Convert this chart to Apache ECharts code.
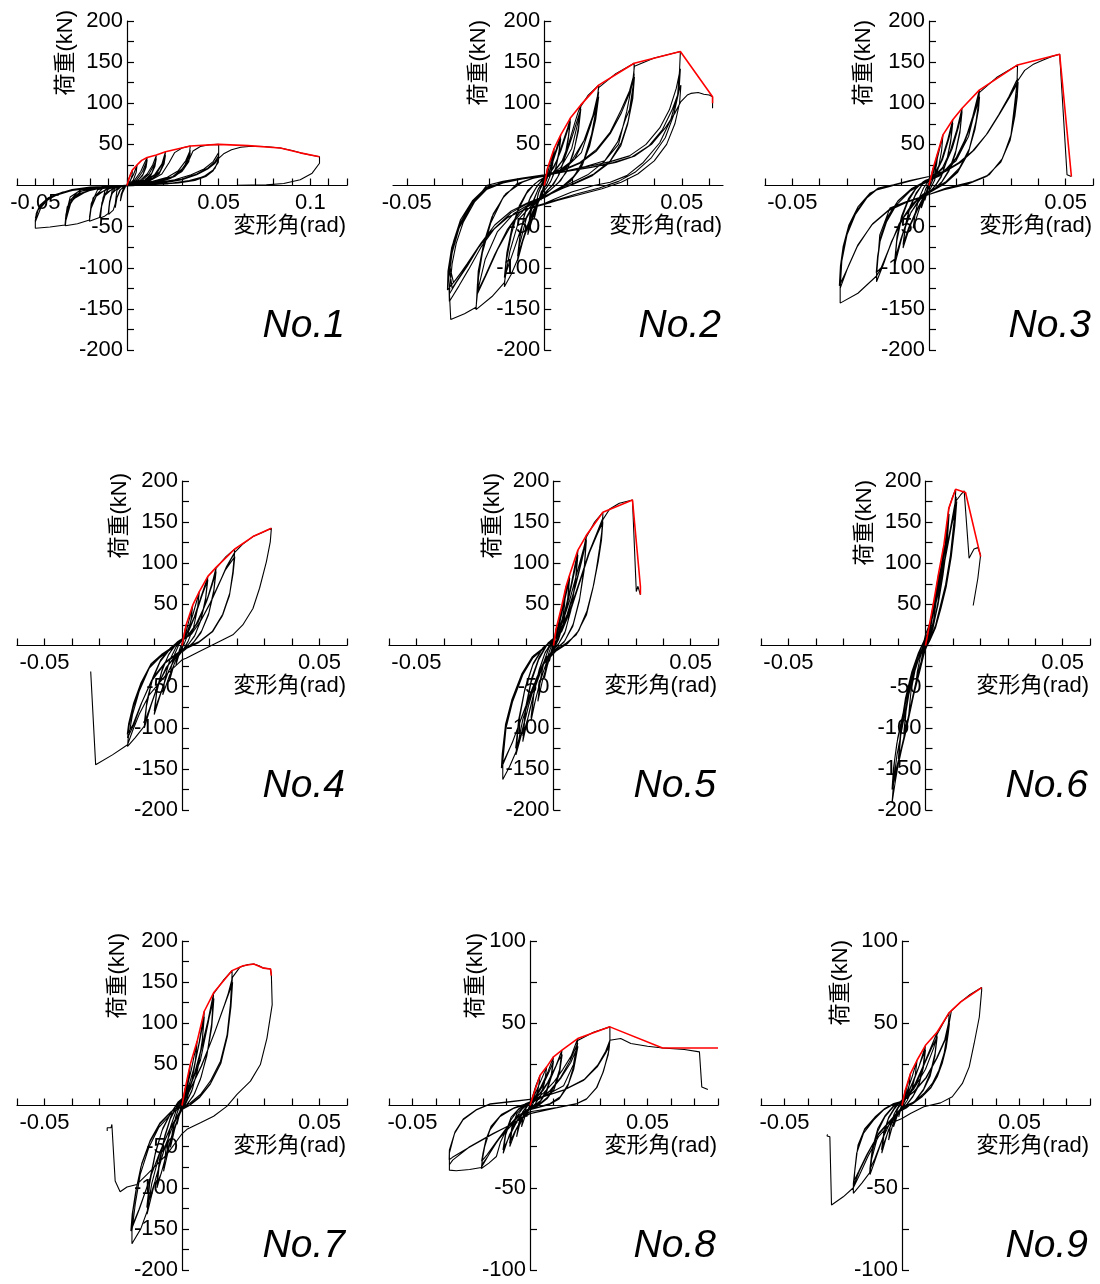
<!DOCTYPE html>
<html><head><meta charset="utf-8">
<script src="https://cdn.jsdelivr.net/npm/echarts@6/dist/echarts.min.js"></script>
<style>html,body{margin:0;padding:0;background:#fff}#c{width:1100px;height:1284px}</style>
</head><body><div id="c"></div>
<script>
// ---------- labels ----------
const panelNames = ['No.1','No.2','No.3','No.4','No.5','No.6','No.7','No.8','No.9'];
const xAxisName = '変形角(rad)';
const yAxisName = '荷重(kN)';
const xTickLabelsWide = [-0.05, 0.05, 0.1];
const xTickLabels = [-0.05, 0.05];
const yTickLabels200 = [-200, -150, -100, -50, 50, 100, 150, 200];
const yTickLabels100 = [-100, -50, 50, 100];

// ---------- data: hysteresis (black) and envelope (red) ----------
const hys1 = [
[0,0],[0.001,8],[0.002,14],[0.003,19],[0.0027,12],[0.0018,5],[0.0005,1],[-0.001,-2],[-0.0025,-9],[-0.0036,-19],[-0.0032,-11],[-0.002,-4],[-0.0005,0],
[0.001,3],[0.0035,13],[0.0055,25],[0.005,16],[0.0035,7],[0.0015,2],[-0.001,-1],[-0.0035,-5],[-0.0055,-15],[-0.0064,-27],[-0.0058,-16],[-0.004,-6],[-0.0015,-1],
[0.001,1],[0.004,6],[0.0075,17],[0.0095,27],[0.011,34],[0.0104,24],[0.0088,14],[0.006,6],[0.003,2],[0,0],[-0.003,-1],[-0.0055,-6],[-0.0064,-22],[-0.0075,-30],[-0.01,-35],[-0.0096,-22],[-0.0082,-10],[-0.005,-3],[-0.002,-1],
[0.001,1],[0.005,6],[0.0085,17],[0.011,31],[0.0104,22],[0.0085,12],[0.005,4],[0.002,1],[-0.002,-1],[-0.0065,-3],[-0.009,-14],[-0.01,-31],[-0.0095,-19],[-0.0078,-8],[-0.004,-2],
[0.002,1],[0.007,6],[0.011,14],[0.014,25],[0.016,36.5],[0.0153,26],[0.0135,15],[0.01,7],[0.005,3],[0,0.5],[-0.004,-1],[-0.008,-5],[-0.0098,-25],[-0.0102,-34],[-0.012,-37],[-0.0145,-39.5],[-0.0138,-25],[-0.012,-12],[-0.008,-4],[-0.003,-1],
[0.002,1],[0.008,6],[0.012,14],[0.015,26],[0.016,33],[0.0152,23],[0.013,12],[0.009,5],[0.004,1.5],[-0.004,-1],[-0.01,-4],[-0.013,-14],[-0.0145,-35],[-0.0137,-21],[-0.0115,-9],[-0.006,-2],
[0.002,1],[0.009,5],[0.015,13],[0.019,26],[0.021,41],[0.0203,29],[0.018,17],[0.014,9],[0.008,3],[0,0.5],[-0.006,-1],[-0.012,-6],[-0.0142,-28],[-0.015,-39],[-0.0205,-43.5],[-0.0196,-28],[-0.0168,-13],[-0.011,-4],[-0.004,-1],
[0.003,1],[0.01,5],[0.016,14],[0.0195,27],[0.021,37],[0.0202,26],[0.0175,14],[0.012,6],[0.005,1.5],[-0.006,-1],[-0.0135,-4],[-0.0185,-15],[-0.0205,-39],[-0.0195,-24],[-0.016,-10],[-0.009,-3],
[0.004,1],[0.012,5],[0.019,14],[0.023,28],[0.026,40],[0.03,45.5],[0.0345,48],[0.034,38],[0.0325,28],[0.029,17],[0.023,8],[0.015,3],[0.006,1],[-0.008,-1],[-0.016,-5],[-0.0195,-22],[-0.0205,-42],[-0.027,-46.5],[-0.0336,-49],[-0.033,-34],[-0.031,-21],[-0.026,-10],[-0.018,-4],[-0.008,-1],
[0.004,1],[0.014,5],[0.022,10],[0.028,18],[0.032,30],[0.0345,43],[0.0338,32],[0.031,20],[0.026,11],[0.017,4],[0.007,1],[-0.006,-1],[-0.016,-3],[-0.025,-7],[-0.03,-16],[-0.0335,-44],[-0.0328,-29],[-0.029,-16],[-0.022,-7],[-0.012,-2],
[0.005,1],[0.016,5],[0.025,11],[0.031,22],[0.0345,40],[0.0337,29],[0.03,17],[0.024,9],[0.014,3],[0.004,1],[-0.008,-1],[-0.018,-3],[-0.027,-8],[-0.031,-18],[-0.0336,-41],[-0.0326,-26],[-0.028,-13],[-0.018,-4],[-0.006,-1],
[0.005,1],[0.015,4],[0.025,10],[0.031,20],[0.034,32],[0.036,42],[0.04,47.5],[0.045,49.5],[0.05,50],[0.05,38],[0.0495,28],[0.047,18],[0.043,11],[0.037,6],[0.028,3],[0.018,1.5],[0.008,0.5],
[-0.005,-1],[-0.015,-2],[-0.025,-5],[-0.031,-14],[-0.0333,-35],[-0.0338,-48],[-0.042,-50.5],[-0.05,-52],[-0.05,-42],[-0.0485,-30],[-0.045,-20],[-0.039,-12],[-0.03,-6],[-0.02,-3],[-0.01,-1],
[0.005,1],[0.015,3],[0.026,7],[0.035,13],[0.042,20],[0.047,29],[0.05,40],[0.05,32],[0.048,21],[0.044,13],[0.037,7],[0.026,3],[0.012,1],
[-0.006,-1],[-0.018,-2],[-0.028,-5],[-0.037,-10],[-0.043,-17],[-0.047,-27],[-0.05,-44],[-0.0495,-34],[-0.0475,-24],[-0.043,-15],[-0.035,-8],[-0.024,-4],[-0.012,-1],
[0.006,1],[0.018,3],[0.03,8],[0.038,14],[0.044,21],[0.048,29],[0.05,36],[0.0498,28],[0.047,19],[0.042,11],[0.034,6],[0.022,2],[0.01,1],
[-0.008,-1],[-0.02,-2],[-0.03,-5],[-0.039,-11],[-0.045,-19],[-0.0485,-29],[-0.05,-40],[-0.049,-31],[-0.046,-21],[-0.04,-12],[-0.03,-6],[-0.018,-3],[-0.006,-1],
[0,0],[0.01,1],[0.02,3],[0.03,7],[0.038,13],[0.044,20],[0.048,27],[0.05,33],[0.053,39],[0.057,43.5],[0.062,46.5],[0.068,47.8],[0.075,47.5],[0.0836,45.5],[0.09,42.5],[0.095,39.5],[0.1,37],[0.105,35],[0.105,27],[0.1045,25],[0.101,15],[0.0945,7],[0.0855,2.4],[0.076,0.8],[0.06,0.3],[0.04,0],[0.02,0],[0,0]
];
const env1 = [[0,0],[0.001,8],[0.002,14],[0.003,19],[0.0055,25],[0.008,30.5],[0.011,34],[0.016,37],[0.021,41],[0.0345,48],[0.05,50],[0.066,48.5],[0.0836,45.5],[0.0945,39.7],[0.105,35]];

const hys2 = [
[0,0],[0.0006,11],[0.0012,21],[0.0008,10],[0.0002,1],[-0.0004,-6],[-0.0012,-18],[-0.0008,-8],[-0.0002,0],
[0.001,12],[0.0022,28],[0.0036,45],[0.0032,30],[0.0024,14],[0.001,2],[-0.0005,-5],[-0.002,-18],[-0.0036,-40],[-0.0031,-25],[-0.0022,-10],[-0.001,0],
[0.0005,4],[0.002,18],[0.0036,42],[0.0031,27],[0.0022,12],[0.0008,1],[-0.001,-7],[-0.0022,-20],[-0.0036,-38],[-0.003,-22],[-0.002,-8],[-0.0007,1],
[0.001,8],[0.0035,35],[0.006,61.5],[0.0054,42],[0.0042,22],[0.0025,6],[0.0008,-3],[-0.001,-10],[-0.003,-28],[-0.0047,-45],[-0.006,-60],[-0.0053,-40],[-0.004,-20],[-0.0023,-5],[-0.0006,4],
[0.0015,12],[0.004,38],[0.006,57],[0.0053,38],[0.004,18],[0.0022,4],[0.0005,-4],[-0.0015,-13],[-0.0035,-31],[-0.006,-56],[-0.0052,-36],[-0.0038,-17],[-0.002,-3],
[0,6],[0.002,14],[0.0045,30],[0.007,55],[0.0085,70],[0.0095,82],[0.0088,60],[0.0075,35],[0.0055,14],[0.0035,2],[0.0012,-6],[-0.001,-14],[-0.003,-25],[-0.0055,-45],[-0.0078,-68],[-0.0097,-92],[-0.009,-66],[-0.0075,-40],[-0.0055,-18],[-0.003,-3],[-0.001,6],
[0.001,10],[0.0035,22],[0.006,42],[0.008,62],[0.0095,78],[0.0087,55],[0.0072,30],[0.005,11],[0.0028,0],[0.0005,-8],[-0.0015,-15],[-0.004,-30],[-0.0065,-52],[-0.0097,-86],[-0.0088,-60],[-0.0072,-35],[-0.005,-14],[-0.0025,0],
[0,8],[0.003,15],[0.0065,30],[0.009,52],[0.011,75],[0.0122,88],[0.0133,98],[0.0125,72],[0.011,45],[0.0085,20],[0.006,6],[0.003,-3],[0,-12],[-0.003,-20],[-0.0065,-40],[-0.009,-72],[-0.0097,-90],[-0.012,-108],[-0.0145,-123],[-0.0138,-92],[-0.012,-60],[-0.0095,-30],[-0.0065,-10],[-0.0035,2],[0,10],
[0.0035,16],[0.0075,34],[0.01,58],[0.0133,93],[0.0124,66],[0.0105,38],[0.008,16],[0.005,3],[0.002,-6],[-0.001,-13],[-0.0045,-26],[-0.008,-48],[-0.011,-78],[-0.0145,-112],[-0.0136,-82],[-0.0118,-52],[-0.009,-24],[-0.006,-6],[-0.002,6],
[0.002,12],[0.006,22],[0.01,45],[0.0125,80],[0.0133,96],[0.016,110],[0.0198,122],[0.019,95],[0.0172,62],[0.0145,32],[0.011,12],[0.007,0],[0.003,-8],[0,-14],[-0.004,-22],[-0.009,-40],[-0.0125,-80],[-0.0145,-118],[-0.019,-135],[-0.0248,-151],[-0.0243,-120],[-0.0225,-82],[-0.0195,-46],[-0.015,-15],[-0.01,2],[-0.005,8],[0,12],
[0.005,17],[0.01,30],[0.0145,55],[0.018,88],[0.0198,114],[0.0188,86],[0.0168,54],[0.014,26],[0.01,8],[0.006,-3],[0.002,-11],[-0.002,-17],[-0.007,-28],[-0.012,-48],[-0.017,-78],[-0.021,-108],[-0.0245,-133],[-0.024,-104],[-0.022,-70],[-0.019,-38],[-0.0145,-12],[-0.009,3],[-0.004,9],
[0.001,12],[0.006,18],[0.011,32],[0.015,58],[0.0185,90],[0.0198,108],[0.0187,80],[0.0165,48],[0.0135,22],[0.0095,5],[0.005,-5],[0.001,-13],[-0.004,-20],[-0.009,-33],[-0.0135,-54],[-0.018,-84],[-0.0215,-110],[-0.0242,-129],[-0.0237,-100],[-0.0215,-66],[-0.0185,-34],[-0.014,-10],[-0.008,4],[-0.003,10],
[0.002,14],[0.008,22],[0.0135,40],[0.017,75],[0.0193,108],[0.0198,119],[0.026,136],[0.0327,148.6],[0.0325,125],[0.031,92],[0.0297,82],[0.0267,53],[0.0218,29],[0.0158,13],[0.0097,3],[0.005,-5],[0,-15],[-0.005,-22],[-0.011,-34],[-0.017,-56],[-0.0215,-90],[-0.0242,-128],[-0.0248,-148],[-0.029,-156],[-0.034,-163],[-0.0345,-130],[-0.0335,-95],[-0.032,-70],[-0.0295,-45],[-0.025,-18],[-0.021,0],[-0.015,5],[-0.008,9],[0,13],
[0.006,18],[0.013,28],[0.019,44],[0.024,65],[0.028,92],[0.031,115],[0.0327,136],[0.0322,110],[0.0305,78],[0.028,52],[0.024,30],[0.018,14],[0.011,3],[0.005,-6],[0,-14],[-0.006,-22],[-0.012,-33],[-0.018,-52],[-0.023,-75],[-0.0275,-102],[-0.031,-122],[-0.0345,-141],[-0.0347,-112],[-0.0335,-82],[-0.031,-52],[-0.027,-26],[-0.022,-6],[-0.016,3],[-0.008,8],[0,12],
[0.006,17],[0.013,27],[0.019,42],[0.024,63],[0.028,88],[0.031,112],[0.0328,132],[0.0322,106],[0.0303,74],[0.0278,48],[0.0235,27],[0.0175,12],[0.011,2],[0.004,-7],[0,-13],[-0.006,-21],[-0.012,-31],[-0.018,-48],[-0.023,-70],[-0.028,-95],[-0.032,-114],[-0.0352,-127],[-0.035,-104],[-0.0337,-76],[-0.031,-48],[-0.0265,-22],[-0.021,-4],[-0.015,4],[-0.008,8],[0,12],
[0.007,17],[0.015,23],[0.022,30],[0.027,50],[0.03,90],[0.0322,128],[0.0328,145],[0.04,155],[0.0495,163],[0.0492,140],[0.0485,110],[0.046,80],[0.042,52],[0.036,28],[0.03,12],[0.024,4],[0.018,0],[0.01,-8],[0.004,-16],[0,-22],[-0.006,-28],[-0.013,-38],[-0.019,-55],[-0.024,-76],[-0.028,-98],[-0.032,-118],[-0.0345,-132],[-0.0348,-108],[-0.0335,-80],[-0.031,-52],[-0.0265,-24],[-0.021,-5],[-0.015,3],[-0.008,8],[0,12],
[0.008,18],[0.016,23],[0.024,29],[0.031,36],[0.037,50],[0.042,70],[0.0455,92],[0.048,118],[0.0495,142],[0.049,115],[0.047,85],[0.044,58],[0.039,34],[0.033,16],[0.027,5],[0.02,-3],[0.012,-10],[0.005,-17],[0,-22],[-0.007,-29],[-0.014,-40],[-0.02,-58],[-0.025,-80],[-0.029,-102],[-0.0335,-125],[-0.0345,-100],[-0.033,-72],[-0.0305,-46],[-0.026,-20],[-0.021,-3],[-0.014,4],[-0.007,9],[0,12],
[0.008,17],[0.017,22],[0.025,28],[0.032,35],[0.038,48],[0.043,68],[0.0465,92],[0.0485,110],[0.0497,122],[0.0492,100],[0.0475,75],[0.0445,50],[0.04,30],[0.034,14],[0.028,4],[0.021,-4],[0.013,-11],[0.005,-18],[0,-23],[-0.007,-29],[-0.014,-40],[-0.02,-58],[-0.025,-80],[-0.029,-100],[-0.033,-118],[-0.0345,-96],[-0.033,-68],[-0.0305,-42],[-0.026,-18],[-0.021,-2],[-0.014,4],[-0.007,9],[0,12],
[0.008,17],[0.017,22],[0.026,28],[0.033,36],[0.039,50],[0.044,70],[0.0475,88],[0.0497,102],[0.052,110],[0.0533,112],[0.056,113],[0.058,111],[0.06,110],[0.0612,108],[0.0612,94]
];
const env2 = [[0,0],[0.0012,21],[0.0036,45],[0.006,61.5],[0.0095,82],[0.0133,98],[0.0198,122],[0.0327,148.6],[0.0495,163],[0.0612,108],[0.0612,100]];

const hys3 = [
[0,0],[0.0008,11],[0.0015,21],[0.001,10],[0.0003,1],[-0.0005,-6],[-0.0015,-18],[-0.001,-8],[-0.0003,0],
[0.001,11],[0.002,24],[0.0033,41],[0.0028,26],[0.0018,10],[0.0006,1],[-0.0008,-8],[-0.0028,-27.5],[-0.0022,-15],[-0.0012,-4],[0,3],
[0.0015,14],[0.0032,35],[0.0051,61.5],[0.0046,42],[0.0035,22],[0.002,6],[0.0005,-4],[-0.0015,-14],[-0.0035,-28],[-0.0058,-52],[-0.005,-33],[-0.0037,-16],[-0.002,-3],[0,6],
[0.002,14],[0.0045,30],[0.0068,55],[0.0087,80],[0.008,56],[0.0066,32],[0.0046,12],[0.0025,1],[0.0005,-7],[-0.0015,-14],[-0.004,-28],[-0.007,-50],[-0.0095,-76],[-0.0087,-52],[-0.0072,-30],[-0.005,-12],[-0.0025,1],[0,8],
[0.0025,15],[0.005,32],[0.0072,56],[0.0087,76],[0.0079,52],[0.0064,29],[0.0044,10],[0.0022,-1],[0,-8],[-0.0025,-17],[-0.005,-33],[-0.0075,-52],[-0.0095,-72],[-0.0086,-48],[-0.007,-26],[-0.0047,-9],[-0.002,3],
[0.002,12],[0.005,22],[0.0078,42],[0.0102,68],[0.0121,94],[0.0114,68],[0.0098,42],[0.0075,20],[0.0048,5],[0.002,-4],[0,-9],[-0.003,-16],[-0.0065,-32],[-0.0095,-58],[-0.0125,-96],[-0.0118,-68],[-0.0102,-42],[-0.0078,-20],[-0.0048,-4],[-0.002,5],
[0.002,11],[0.0055,22],[0.0085,45],[0.0107,70],[0.0121,90],[0.0113,64],[0.0096,38],[0.0072,17],[0.0045,3],[0.0015,-6],[-0.001,-11],[-0.004,-19],[-0.0075,-38],[-0.0102,-64],[-0.0125,-90],[-0.0117,-62],[-0.01,-37],[-0.0075,-16],[-0.0045,-2],[-0.0015,6],
[0.002,10],[0.006,19],[0.01,34],[0.0135,58],[0.016,84],[0.0184,116],[0.0182,102],[0.0172,78],[0.0148,45],[0.0111,21],[0.0063,5],[0.003,-2],[0,-7],[-0.0046,-19],[-0.0095,-40],[-0.0137,-68],[-0.0167,-96],[-0.0192,-117],[-0.019,-96],[-0.0179,-68],[-0.0155,-44],[-0.0119,-23.5],[-0.007,-7],[-0.003,1],[0,5],
[0.004,13],[0.008,24],[0.0115,42],[0.0148,70],[0.0172,96],[0.0184,112],[0.0181,96],[0.017,72],[0.0145,41],[0.0108,18],[0.006,3],[0.002,-5],[-0.002,-10],[-0.0065,-24],[-0.011,-47],[-0.0145,-76],[-0.017,-98],[-0.0192,-110],[-0.0189,-90],[-0.0177,-63],[-0.0152,-40],[-0.0116,-20],[-0.0068,-5],[-0.002,3],
[0.004,12],[0.008,23],[0.012,44],[0.0152,72],[0.0175,96],[0.0185,108],[0.0181,92],[0.0168,68],[0.0142,38],[0.0105,16],[0.0058,2],[0.0015,-6],[-0.002,-11],[-0.0065,-25],[-0.011,-48],[-0.0148,-78],[-0.0175,-100],[-0.0193,-106],[-0.0188,-86],[-0.0175,-60],[-0.015,-37],[-0.0112,-18],[-0.0065,-4],[-0.002,4],
[0.004,14],[0.0099,30],[0.0145,60],[0.0175,100],[0.0184,113],[0.025,132],[0.0324,146.6],[0.0322,125],[0.0312,95],[0.03,61.5],[0.0269,33],[0.022,13],[0.016,4.9],[0.0063,-3.2],[0,-11],[-0.0082,-19.4],[-0.0143,-27.5],[-0.018,-60],[-0.0192,-110],[-0.026,-131],[-0.0325,-143],[-0.0325,-125],[-0.0319,-92],[-0.03,-60],[-0.027,-35.6],[-0.0228,-15.4],[-0.0192,-5.3],[-0.0143,-1.2],[-0.0082,4.9],[0,11],
[0.006,18],[0.011,28],[0.016,42],[0.021,62],[0.0255,86],[0.0292,108],[0.0324,130],[0.0322,112],[0.0313,88],[0.0298,58],[0.0265,30],[0.0215,12],[0.015,3],[0.006,-4],[0,-11],[-0.008,-20],[-0.0145,-29],[-0.0205,-46],[-0.026,-72],[-0.0295,-98],[-0.0325,-125],[-0.0322,-100],[-0.0315,-80],[-0.0297,-54],[-0.0265,-31],[-0.0222,-12],[-0.0185,-3],[-0.013,1],[-0.007,6],[0,11],
[0.006,17],[0.0115,28],[0.0165,43],[0.0215,64],[0.026,88],[0.0296,108],[0.0326,126],[0.0323,108],[0.0314,84],[0.0297,55],[0.0262,28],[0.021,11],[0.0145,2],[0.0055,-5],[0,-11],[-0.0085,-21],[-0.015,-31],[-0.021,-48],[-0.0262,-74],[-0.0297,-100],[-0.0328,-122],[-0.0324,-98],[-0.0314,-74],[-0.0293,-48],[-0.026,-26],[-0.0215,-9],[-0.017,-2],[-0.011,2],[-0.005,7],[0,11],
[0.006,18],[0.0115,28],[0.0165,43],[0.0215,64],[0.026,88],[0.0296,108],[0.0326,128],[0.035,140],[0.038,147],[0.042,153],[0.045,157],[0.0478,159.5],[0.0505,13],[0.0521,11]
];
const env3 = [[0,0],[0.0015,21],[0.0033,41],[0.0051,61.5],[0.0087,80],[0.0121,94],[0.0184,116],[0.0324,146.6],[0.0478,159.5],[0.0521,11]];

const hys4 = [
[0,0],[0.0008,14],[0.0015,25],[0.001,13],[0.0003,2],[-0.0008,-8],[-0.0022,-23.5],[-0.0016,-12],[-0.0006,-2],
[0.001,10],[0.0025,30],[0.0039,49],[0.0033,32],[0.0022,14],[0.0008,2],[-0.001,-8],[-0.0028,-22],[-0.0046,-43.7],[-0.0039,-26],[-0.0026,-10],[-0.001,2],
[0.0015,12],[0.004,38],[0.0063,65.6],[0.0056,44],[0.0042,22],[0.0022,5],[0.0005,-5],[-0.002,-16],[-0.0045,-36],[-0.007,-60],[-0.0061,-38],[-0.0045,-18],[-0.0022,-2],[0,6],
[0.002,16],[0.0045,35],[0.007,60],[0.0094,84],[0.0086,58],[0.007,33],[0.0048,13],[0.0025,2],[0,-6],[-0.0025,-16],[-0.005,-32],[-0.0075,-56],[-0.0101,-84],[-0.0092,-57],[-0.0074,-32],[-0.005,-12],[-0.0025,1],[0,8],
[0.0025,18],[0.005,38],[0.0074,62],[0.0094,80],[0.0085,54],[0.0068,30],[0.0045,11],[0.002,0],[-0.0005,-7],[-0.003,-18],[-0.0055,-36],[-0.008,-60],[-0.0101,-80],[-0.0091,-53],[-0.0072,-29],[-0.0047,-10],[-0.002,2],
[0.002,12],[0.005,25],[0.0085,50],[0.0107,72],[0.0124,95],[0.0116,68],[0.0098,40],[0.0072,18],[0.0042,4],[0.0012,-5],[-0.002,-12],[-0.005,-24],[-0.0085,-46],[-0.0112,-72],[-0.0137,-100],[-0.0128,-70],[-0.0108,-42],[-0.008,-20],[-0.0045,-5],[-0.0015,5],
[0.0025,13],[0.0058,28],[0.009,54],[0.011,74],[0.0124,90],[0.0115,64],[0.0096,37],[0.0068,15],[0.0038,2],[0.0008,-6],[-0.0025,-13],[-0.0058,-27],[-0.009,-50],[-0.0115,-74],[-0.0137,-94],[-0.0127,-66],[-0.0106,-39],[-0.0077,-17],[-0.0042,-3],[-0.001,6],
[0.003,13],[0.0063,32],[0.0095,60],[0.012,88],[0.0124,94],[0.016,108],[0.0191,117],[0.0191,112],[0.0185,90],[0.0173,61.5],[0.0148,37],[0.0112,17],[0.0063,4.9],[0,-5],[-0.0058,-19.4],[-0.0107,-39.7],[-0.013,-75],[-0.0137,-98],[-0.017,-112],[-0.0198,-122.7],[-0.0196,-114],[-0.018,-84],[-0.0156,-56],[-0.0119,-27.5],[-0.0083,-15.4],[-0.0034,-3.2],[0,7],
[0.0035,14],[0.0068,30],[0.01,50],[0.0128,70],[0.0155,90],[0.0178,105],[0.0191,112],[0.0186,92],[0.0174,64],[0.0148,38],[0.011,17],[0.006,4],[0,-5],[-0.006,-20],[-0.011,-42],[-0.0147,-70],[-0.0175,-96],[-0.0198,-112.5],[-0.0194,-100],[-0.0178,-76],[-0.0152,-50],[-0.0115,-25],[-0.0078,-13],[-0.003,-2],[0,6],
[0.0035,14],[0.007,31],[0.0103,52],[0.013,72],[0.0158,92],[0.0192,108],[0.0186,88],[0.0172,60],[0.0145,35],[0.0108,16],[0.0058,3],[0,-6],[-0.006,-21],[-0.0112,-44],[-0.015,-72],[-0.0178,-96],[-0.0199,-108],[-0.0194,-95],[-0.0176,-70],[-0.015,-46],[-0.0112,-22],[-0.0075,-11],[-0.003,-1],[0,6],
[0.0035,14],[0.007,31],[0.0105,53],[0.0135,75],[0.0162,96],[0.0191,113],[0.022,123],[0.0258,132.4],[0.029,137],[0.0325,142.5],[0.0325,140.5],[0.0321,126],[0.0307,102],[0.0282,69.6],[0.0258,45],[0.0221,25],[0.0185,13],[0.0136,4.9],[0.0063,-7.3],[0.0015,-15.4],[0,-17.4],[-0.0058,-35.6],[-0.0119,-60],[-0.0156,-84],[-0.018,-104],[-0.0198,-120.6],[-0.0253,-133],[-0.0314,-145],[-0.0332,-31.6]
];
const env4 = [[0,0],[0.0015,25],[0.0039,49],[0.0063,65.6],[0.0094,84],[0.0124,95],[0.0191,117],[0.0258,132.4],[0.0325,142.5]];

const hys5 = [
[0,0],[0.0005,11],[0.001,21],[0.0006,10],[0,1],[-0.0007,-8],[-0.0015,-19.4],[-0.001,-9],[-0.0003,0],
[0.001,14],[0.002,30],[0.0028,45],[0.0023,28],[0.0014,12],[0.0004,1],[-0.001,-10],[-0.0022,-24],[-0.0033,-39.7],[-0.0027,-24],[-0.0017,-9],[-0.0005,2],
[0.001,12],[0.0028,40],[0.0046,72],[0.004,48],[0.0028,24],[0.0014,7],[0,-3],[-0.002,-20],[-0.004,-42],[-0.0057,-68],[-0.0049,-44],[-0.0035,-20],[-0.0018,-4],[0,6],
[0.0015,18],[0.0035,50],[0.0059,86],[0.0052,58],[0.0038,30],[0.002,9],[0.0002,-4],[-0.002,-15],[-0.0045,-40],[-0.0065,-65],[-0.0082,-92],[-0.0072,-60],[-0.0054,-32],[-0.0032,-10],[-0.001,3],
[0.0015,16],[0.0035,46],[0.0059,82],[0.0051,54],[0.0036,27],[0.0018,7],[0,-5],[-0.0025,-20],[-0.005,-45],[-0.0082,-88],[-0.0071,-56],[-0.0052,-29],[-0.003,-8],[-0.0005,4],
[0.0015,16],[0.004,40],[0.0065,75],[0.0089,116],[0.0081,82],[0.0065,46],[0.0044,18],[0.002,3],[0,-5],[-0.003,-18],[-0.0062,-45],[-0.0088,-80],[-0.0112,-117],[-0.0102,-80],[-0.0082,-45],[-0.0055,-18],[-0.0025,0],[0,8],
[0.002,16],[0.0045,42],[0.0068,76],[0.0089,110],[0.008,76],[0.0063,42],[0.0041,15],[0.0015,0],[-0.0005,-6],[-0.0035,-21],[-0.0066,-50],[-0.009,-84],[-0.0112,-110],[-0.0101,-74],[-0.008,-40],[-0.0052,-14],[-0.002,3],
[0.002,14],[0.005,38],[0.0078,70],[0.0102,104],[0.012,134],[0.0113,98],[0.0096,58],[0.0072,26],[0.0042,6],[0.001,-4],[-0.0025,-14],[-0.006,-38],[-0.009,-72],[-0.0115,-106],[-0.0137,-133],[-0.0128,-96],[-0.0106,-56],[-0.0076,-24],[-0.004,-4],[-0.001,6],
[0.002,13],[0.0052,38],[0.008,72],[0.0104,104],[0.012,128],[0.0112,92],[0.0094,54],[0.007,23],[0.0038,4],[0.0005,-5],[-0.003,-16],[-0.0065,-42],[-0.0095,-78],[-0.0118,-108],[-0.0138,-125],[-0.0127,-90],[-0.0104,-52],[-0.0073,-21],[-0.0037,-2],[0,7],
[0.001,13],[0.0035,30],[0.0059,55],[0.0083,85],[0.011,118],[0.012,132],[0.015,150],[0.018,162],[0.018,158.7],[0.0176,138],[0.0168,118],[0.0156,92],[0.0144,70],[0.012,37],[0.0083,13],[0.0046,2.8],[0,-7.3],[-0.0039,-23.5],[-0.0076,-51.8],[-0.0112,-90],[-0.0135,-128],[-0.016,-147],[-0.0185,-163],[-0.0185,-141],[-0.0173,-100],[-0.0149,-68],[-0.0112,-35.6],[-0.0076,-15.4],[-0.0027,-1.2],[0,8],
[0.003,18],[0.0062,45],[0.0095,78],[0.0128,112],[0.0156,135],[0.018,155],[0.0176,132],[0.0165,108],[0.0148,76],[0.0125,44],[0.0092,18],[0.0052,3],[0.001,-6],[-0.0035,-22],[-0.0074,-50],[-0.011,-82],[-0.0148,-116],[-0.019,-149],[-0.0187,-132],[-0.0175,-96],[-0.0152,-66],[-0.0115,-34],[-0.0078,-14],[-0.003,-1],[0,7],
[0.003,17],[0.0063,44],[0.0097,78],[0.013,112],[0.0158,134],[0.018,150],[0.0175,128],[0.0163,102],[0.0145,72],[0.0122,42],[0.009,17],[0.005,2],[0.0008,-7],[-0.0037,-23],[-0.0076,-51],[-0.0113,-84],[-0.015,-118],[-0.0185,-143],[-0.0183,-126],[-0.017,-92],[-0.0147,-63],[-0.011,-32],[-0.0072,-12],[-0.0025,0],[0,7],
[0.003,17],[0.0064,44],[0.0099,80],[0.0132,114],[0.016,138],[0.018,153],[0.0205,166],[0.024,173],[0.0288,177],[0.0302,65.6],[0.0308,72],[0.0312,73.7],[0.0317,61.5]
];
const env5 = [[0,0],[0.001,21],[0.0028,45],[0.0046,72],[0.0059,86],[0.0089,116],[0.012,134],[0.018,162],[0.0288,177],[0.0317,71.7],[0.0317,62]];

const hys6 = [
[0,0],[0.0006,11],[0.0012,21],[0.0008,11],[0.0002,2],[-0.0008,-9],[-0.0018,-23.5],[-0.0012,-12],[-0.0004,-2],
[0.001,14],[0.002,32],[0.003,53.4],[0.0025,34],[0.0016,16],[0.0005,3],[-0.001,-12],[-0.0024,-30],[-0.0037,-52],[-0.003,-32],[-0.0019,-14],[-0.0006,0],
[0.001,14],[0.003,48],[0.0049,90],[0.0042,60],[0.003,32],[0.0015,10],[0,-4],[-0.002,-24],[-0.004,-52],[-0.0061,-84],[-0.0053,-56],[-0.0038,-30],[-0.002,-10],[0,6],
[0.0015,20],[0.0035,52],[0.0052,86],[0.0067,122],[0.006,88],[0.0046,54],[0.003,26],[0.0012,6],[-0.0005,-8],[-0.0025,-30],[-0.0045,-60],[-0.0063,-88],[-0.0079,-112.5],[-0.0071,-80],[-0.0055,-48],[-0.0035,-20],[-0.0015,-2],[0,8],
[0.0018,22],[0.0038,55],[0.0055,88],[0.0068,116],[0.006,84],[0.0045,50],[0.0028,22],[0.001,3],[-0.0008,-11],[-0.0028,-34],[-0.0048,-64],[-0.0065,-90],[-0.0079,-106],[-0.007,-74],[-0.0053,-43],[-0.0032,-16],[-0.0012,1],
[0.0015,20],[0.0035,50],[0.0055,88],[0.0072,124],[0.0085,167],[0.0079,130],[0.0065,92],[0.0048,56],[0.003,26],[0.0012,6],[-0.0006,-10],[-0.0025,-32],[-0.0048,-66],[-0.0072,-104],[-0.0098,-141],[-0.0089,-104],[-0.0072,-68],[-0.005,-36],[-0.0028,-12],[-0.0008,4],
[0.0015,18],[0.0036,50],[0.0057,88],[0.0073,122],[0.0086,160],[0.0079,124],[0.0064,86],[0.0046,50],[0.0027,22],[0.0008,3],[-0.001,-13],[-0.0028,-36],[-0.005,-70],[-0.0074,-108],[-0.0099,-138],[-0.009,-100],[-0.0073,-64],[-0.005,-32],[-0.0026,-9],[-0.0005,6],
[0,13],[0.0018,29],[0.0043,65],[0.0067,110],[0.0083,160],[0.0085,166],[0.0098,180],[0.011,190],[0.011,186.6],[0.0104,150.6],[0.0091,110],[0.0073,73.7],[0.0055,49.4],[0.0037,25],[0.0018,8.9],[0,-3],[-0.0018,-27.5],[-0.0043,-60],[-0.0075,-110],[-0.0096,-138],[-0.011,-165],[-0.0122,-191.5],[-0.0116,-165],[-0.0104,-133],[-0.0085,-100],[-0.0067,-68],[-0.0043,-35.6],[-0.0024,-15.4],[0,-1],
[0.0018,26],[0.0043,60],[0.0067,100],[0.0091,142.5],[0.0112,181],[0.0106,150],[0.0093,112],[0.0075,75],[0.0056,48],[0.0037,23],[0.0017,7],[0,-4],[-0.002,-28],[-0.0045,-62],[-0.007,-100],[-0.0094,-137],[-0.0122,-175],[-0.0117,-150],[-0.0105,-120],[-0.0086,-90],[-0.0066,-60],[-0.0042,-32],[-0.0022,-13],[0,-1],
[0.0019,26],[0.0045,61],[0.0069,101],[0.0093,142],[0.0114,175],[0.0107,145],[0.0094,108],[0.0076,72],[0.0057,46],[0.0037,22],[0.0016,6],[0,-4],[-0.002,-27],[-0.0045,-60],[-0.0069,-97],[-0.0093,-132],[-0.0118,-165],[-0.0113,-140],[-0.0101,-112],[-0.0083,-84],[-0.0063,-55],[-0.004,-28],[-0.002,-11],[0,0],
[0.0019,26],[0.0045,61],[0.007,102],[0.0094,144],[0.0112,176],[0.0128,183],[0.0141,188],[0.0146,186],[0.0159,106],[0.017,113],[0.0177,117.4],[0.0191,119],[0.0201,110],[0.0191,81.8],[0.0174,48.6]
];
const env6 = [[0,0],[0.0012,21],[0.003,53.4],[0.0049,90],[0.0067,122],[0.0085,167],[0.011,190],[0.0146,186],[0.0201,108]];

const hys7 = [
[0,0],[0.0006,11],[0.0012,21.5],[0.0008,11],[0.0002,2],[-0.0008,-9],[-0.0018,-23],[-0.0012,-12],[-0.0004,-2],
[0.001,14],[0.002,30],[0.003,50],[0.0025,32],[0.0016,15],[0.0005,3],[-0.001,-11],[-0.0026,-28],[-0.0042,-51],[-0.0035,-32],[-0.0023,-14],[-0.0008,0],
[0.0012,14],[0.0033,42],[0.0055,78],[0.0048,52],[0.0035,28],[0.0018,8],[0,-4],[-0.0022,-22],[-0.0045,-48],[-0.0067,-80],[-0.0058,-52],[-0.0042,-26],[-0.0022,-7],[0,6],
[0.002,18],[0.0042,44],[0.0062,76],[0.0081,114.6],[0.0074,80],[0.0058,46],[0.0038,20],[0.0016,4],[-0.0005,-8],[-0.0028,-28],[-0.0052,-54],[-0.0072,-78],[-0.0091,-100],[-0.0082,-70],[-0.0064,-40],[-0.0042,-16],[-0.0018,-1],[0,8],
[0.002,18],[0.0044,46],[0.0064,78],[0.0081,108],[0.0073,76],[0.0056,42],[0.0035,17],[0.0013,2],[-0.0008,-10],[-0.0032,-31],[-0.0056,-58],[-0.0075,-82],[-0.0092,-96],[-0.0082,-66],[-0.0062,-36],[-0.004,-13],[-0.0015,1],
[0.0018,14],[0.0045,38],[0.0072,72],[0.0095,104],[0.0115,137],[0.0108,100],[0.0092,64],[0.007,35],[0.0045,14],[0.002,2],[0,-5],[-0.003,-22],[-0.0062,-50],[-0.0095,-88],[-0.0127,-132],[-0.0118,-96],[-0.0098,-60],[-0.0072,-30],[-0.0042,-10],[-0.0015,4],
[0.002,14],[0.0048,40],[0.0075,74],[0.0098,106],[0.0116,130],[0.0108,95],[0.009,60],[0.0067,32],[0.0042,12],[0.0017,1],[-0.0005,-7],[-0.0034,-25],[-0.0066,-55],[-0.0098,-92],[-0.0128,-124],[-0.0117,-90],[-0.0096,-56],[-0.0069,-27],[-0.0039,-8],[-0.001,5],
[0.0018,13.4],[0.0067,55],[0.0095,100],[0.0113,133],[0.0115,136],[0.015,152],[0.0182,164],[0.0182,159],[0.0176,122.6],[0.0164,86],[0.014,53.8],[0.0103,29.6],[0.0067,13.4],[0.003,3.2],[0,-2.8],[-0.0042,-27],[-0.0079,-55.5],[-0.011,-95],[-0.0126,-128],[-0.015,-150],[-0.0182,-168],[-0.0182,-152.6],[-0.017,-120],[-0.0152,-84],[-0.0121,-51.4],[-0.0085,-27],[-0.0042,-11],[0,-1],
[0.0022,14],[0.007,48],[0.0118,88],[0.0148,116],[0.0168,136],[0.0183,155],[0.0178,122],[0.0166,86],[0.0142,52],[0.0104,27],[0.0066,11],[0.0028,1],[0,-4],[-0.0044,-28],[-0.0081,-57],[-0.0118,-90],[-0.0155,-126],[-0.0186,-152.6],[-0.0181,-132],[-0.0168,-104],[-0.0149,-74],[-0.0118,-45],[-0.0082,-23],[-0.004,-8],[0,1],
[0.0022,14],[0.0071,48],[0.0119,89],[0.015,118],[0.0172,138],[0.0184,150],[0.0178,120],[0.0165,84],[0.0141,51],[0.0103,26],[0.0065,10],[0.0027,0],[0,-5],[-0.0045,-29],[-0.0082,-58],[-0.0119,-91],[-0.0156,-126],[-0.0183,-148],[-0.0178,-128],[-0.0165,-100],[-0.0146,-70],[-0.0115,-42],[-0.008,-21],[-0.0038,-7],[0,2],
[0.0022,14],[0.0071,48],[0.012,90],[0.0152,120],[0.0174,142],[0.0184,156],[0.021,168],[0.024,171.5],[0.0261,172],[0.028,170],[0.0297,167],[0.0322,166],[0.0325,158],[0.0328,122.7],[0.0309,82],[0.0285,49.8],[0.0249,29.6],[0.02,13.4],[0.0164,-0.8],[0.0115,-13],[0.0067,-21],[0.0018,-29],[0,-34.4],[-0.0055,-59.5],[-0.0127,-83.8],[-0.0164,-96],[-0.02,-99],[-0.0225,-104.9],[-0.0243,-91.9],[-0.0249,-91.9],[-0.0255,-23],[-0.0258,-27],[-0.0272,-27],[-0.0272,-31]
];
const env7 = [[0,0],[0.0012,21.5],[0.003,50],[0.0055,78],[0.0081,114.6],[0.0115,137],[0.0182,164],[0.0222,170],[0.0261,172],[0.0297,167],[0.0322,166],[0.0325,158]];

const hys8 = [
[0,0],[0.001,5],[0.0021,9.3],[0.0016,5],[0.0006,1],[-0.0005,-2],[-0.0014,-6.9],[-0.0009,-3],[-0.0002,0],
[0.001,5],[0.0025,12],[0.0043,18.4],[0.0036,11],[0.0023,4],[0.0008,0],[-0.001,-3],[-0.0022,-7],[-0.0036,-13],[-0.003,-7],[-0.0018,-2],[-0.0005,1],
[0.0015,5],[0.004,13],[0.0071,23.5],[0.0062,14],[0.0045,6],[0.0022,1],[0,-2],[-0.0025,-6],[-0.0045,-12],[-0.0057,-19],[-0.0048,-11],[-0.0032,-4],[-0.0012,0],
[0.002,5],[0.0045,11],[0.0075,20],[0.01,29.6],[0.0091,19],[0.0072,10],[0.0045,3],[0.0018,0],[0,-2],[-0.003,-7],[-0.006,-15],[-0.0086,-25],[-0.0077,-15],[-0.0058,-7],[-0.0032,-2],[-0.0008,1],
[0.002,4],[0.005,11],[0.008,20],[0.01,27],[0.009,17],[0.007,8],[0.0042,2],[0.0015,-1],[-0.001,-3],[-0.0035,-8],[-0.0065,-16],[-0.0087,-23],[-0.0077,-13],[-0.0056,-5],[-0.003,-1],
[0.0005,2],[0.004,7],[0.0075,14],[0.011,24],[0.0136,33.6],[0.0126,22],[0.0105,12],[0.0075,5],[0.004,1],[0.001,-1],[-0.002,-3],[-0.0055,-9],[-0.0088,-18],[-0.0114,-29],[-0.0104,-18],[-0.0082,-9],[-0.0052,-3],[-0.002,1],
[0.0015,3],[0.0055,9],[0.009,17],[0.012,27],[0.0137,31],[0.0126,20],[0.0103,10],[0.0072,4],[0.0036,0],[0.0005,-2],[-0.0025,-4],[-0.006,-11],[-0.0092,-20],[-0.0115,-27],[-0.0103,-16],[-0.008,-7],[-0.0048,-2],[-0.0015,1],
[0.002,3],[0.006,8],[0.01,14],[0.014,22],[0.0175,30],[0.0203,40.7],[0.02,37.7],[0.0189,25.5],[0.0164,13.4],[0.0129,5.3],[0.0086,1.2],[0.004,-0.8],[0,-2],[-0.005,-6],[-0.0095,-13],[-0.0125,-22],[-0.0143,-31],[-0.0175,-35],[-0.0207,-38.3],[-0.0203,-33.2],[-0.0193,-25.1],[-0.0171,-15],[-0.0129,-6.9],[-0.0071,-1.8],[0,1.2],
[0.004,4],[0.0085,9],[0.013,17],[0.017,27],[0.0203,38],[0.0199,34],[0.0187,23],[0.0161,12],[0.0126,4.5],[0.0083,0.8],[0.004,-1],[0,-2.5],[-0.005,-7],[-0.01,-14],[-0.0145,-23],[-0.018,-31],[-0.0205,-36],[-0.0201,-31],[-0.019,-23],[-0.0167,-13.5],[-0.0125,-6],[-0.0068,-1.5],[0,1.5],
[0.004,4],[0.0088,9],[0.0133,17],[0.0173,26],[0.0204,36],[0.0199,32],[0.0186,22],[0.016,11.5],[0.0124,4],[0.008,0.5],[0.0035,-1.2],[0,-2.5],[-0.0052,-7],[-0.0102,-14],[-0.0148,-23],[-0.0183,-30],[-0.0206,-34],[-0.02,-29],[-0.0188,-21],[-0.0165,-12.5],[-0.0122,-5.5],[-0.0065,-1.2],[0,1.8],
[0.0057,5.3],[0.0143,12],[0.0185,25],[0.0203,39.5],[0.027,44.5],[0.034,47.8],[0.034,39.7],[0.0336,33.6],[0.0314,21.5],[0.0286,11.3],[0.0243,4.3],[0.02,1.2],[0.0114,-1.2],[0,-3.8],[-0.0071,-10.9],[-0.0143,-22],[-0.0207,-37.7],[-0.0257,-38.9],[-0.0314,-39.7],[-0.0343,-39.3],[-0.0343,-29],[-0.0321,-17],[-0.0286,-8.9],[-0.0229,-2.8],[-0.0171,0.8],[-0.0086,2.2],[0,3.6],
[0.0057,5.3],[0.0143,9.3],[0.0229,15.4],[0.0286,23.5],[0.0321,31.6],[0.0337,37.7],[0.0334,32],[0.0312,20.5],[0.0284,10.8],[0.0241,4],[0.0198,1],[0.0112,-1.4],[0,-4.9],[-0.0071,-10.9],[-0.0157,-17],[-0.0257,-25.1],[-0.0329,-33.2],[-0.0343,-36],[-0.0343,-28],[-0.032,-16.5],[-0.0285,-8.5],[-0.0228,-2.6],[-0.017,0.9],[-0.0085,2.3],[0,3.6],
[0.006,5.5],[0.0146,9.5],[0.0232,15.8],[0.0288,24],[0.0322,32],[0.0338,36],[0.0333,31],[0.031,20],[0.0282,10.5],[0.024,3.8],[0.0196,0.9],[0.011,-1.5],[0,-5],[-0.0073,-11],[-0.016,-17.5],[-0.026,-25.5],[-0.033,-31.5],[-0.0344,-33],[-0.0343,-27],[-0.0319,-16],[-0.0284,-8.2],[-0.0227,-2.4],[-0.0169,1],[-0.0084,2.4],[0,3.7],
[0.006,5.6],[0.0146,9.6],[0.0232,16],[0.0288,24.5],[0.0322,33],[0.034,39.7],[0.0386,40.7],[0.0429,37.7],[0.05,36],[0.0564,35],[0.0657,34],[0.0721,32.6],[0.0731,11.3],[0.0736,10.3],[0.0757,9.7]
];
const env8 = [[0,0],[0.0021,9.3],[0.0043,18.4],[0.0071,23.5],[0.01,29.6],[0.0136,33.6],[0.0203,40.7],[0.034,47.8],[0.0564,35],[0.08,35]];

const hys9 = [
[0,0],[0.0007,5],[0.0014,9.3],[0.001,5],[0.0003,1],[-0.0005,-2],[-0.0014,-6.9],[-0.0009,-3],[-0.0002,0],
[0.001,5],[0.0022,12],[0.0036,19.4],[0.003,12],[0.0019,5],[0.0006,1],[-0.001,-3],[-0.0022,-7],[-0.0036,-13],[-0.003,-7],[-0.0018,-2],[-0.0004,1],
[0.0015,6],[0.004,16],[0.0064,27.5],[0.0056,18],[0.0041,9],[0.0022,3],[0.0003,-1],[-0.002,-5],[-0.004,-12],[-0.0057,-21],[-0.0049,-12],[-0.0033,-5],[-0.0013,0],
[0.002,6],[0.0045,14],[0.0073,24],[0.01,36.6],[0.0091,25],[0.0073,14],[0.0048,6],[0.0022,1],[0,-2],[-0.003,-7],[-0.0058,-15],[-0.0086,-29],[-0.0077,-18],[-0.0058,-8],[-0.0032,-2],[-0.001,2],
[0.0022,6],[0.005,15],[0.0078,26],[0.01,34],[0.0091,23],[0.0071,12],[0.0045,5],[0.0018,0],[-0.001,-3],[-0.0035,-8],[-0.0062,-17],[-0.0087,-27],[-0.0077,-16],[-0.0056,-7],[-0.003,-1],
[0.002,5],[0.0055,13],[0.009,24],[0.0122,35],[0.015,44.7],[0.0141,32],[0.0121,20],[0.0092,10],[0.0056,3],[0.002,-1],[-0.001,-3],[-0.0045,-9],[-0.008,-19],[-0.0114,-33],[-0.0136,-42],[-0.0126,-28],[-0.0104,-16],[-0.0073,-7],[-0.0038,-1],[-0.001,2],
[0.0025,5],[0.006,13],[0.0095,25],[0.0126,35],[0.015,42],[0.014,30],[0.012,18],[0.009,9],[0.0053,2.5],[0.0018,-1.5],[-0.0015,-4],[-0.005,-10],[-0.0085,-21],[-0.0115,-32],[-0.0137,-39],[-0.0126,-26],[-0.0103,-14],[-0.0071,-6],[-0.0035,0],
[0,3],[0.005,10],[0.01,22],[0.0135,35],[0.015,43.5],[0.0175,50],[0.02,56.3],[0.02,53.8],[0.0193,43.7],[0.0179,31.6],[0.0157,21.5],[0.0129,13.4],[0.0093,7.3],[0.005,2.2],[0,-1],[-0.005,-9],[-0.01,-17],[-0.013,-33],[-0.0138,-41],[-0.017,-47],[-0.0207,-53.4],[-0.0207,-47.4],[-0.0193,-29],[-0.0164,-17],[-0.0121,-8.9],[-0.0079,-2.8],[-0.004,0.5],[0,2.2],
[0.005,8.5],[0.0102,17],[0.0148,29],[0.0182,40],[0.0201,52],[0.0198,47],[0.019,38],[0.0175,28],[0.0153,19],[0.0125,11.5],[0.009,6],[0.0047,1.5],[0,-1.5],[-0.0052,-9.5],[-0.0103,-18],[-0.0148,-30],[-0.0182,-40],[-0.0205,-48.4],[-0.0201,-40],[-0.0189,-26],[-0.016,-15],[-0.0117,-7.5],[-0.0075,-2],[-0.0037,1],[0,2.5],
[0.0052,8.5],[0.0104,17],[0.015,29],[0.0184,40],[0.0202,50],[0.0197,44],[0.0188,35],[0.0172,26],[0.015,17.5],[0.0122,10.5],[0.0087,5.5],[0.0045,1],[0,-2],[-0.0053,-10],[-0.0105,-18.5],[-0.015,-30],[-0.0184,-40],[-0.0205,-46],[-0.02,-38],[-0.0187,-24],[-0.0158,-14],[-0.0115,-7],[-0.0073,-1.8],[-0.0035,1.2],[0,2.6],
[0.0052,8.6],[0.0104,17.2],[0.015,29],[0.0185,41],[0.0202,51],[0.021,57.5],[0.025,63],[0.029,67.5],[0.0339,71.7],[0.0339,70],[0.0329,53.8],[0.0307,37.7],[0.0286,23.5],[0.0257,13.4],[0.0214,5.3],[0.0164,1.6],[0.0093,-0.8],[0.0036,-4.9],[0,-7.9],[-0.005,-11],[-0.01,-19],[-0.0145,-31],[-0.018,-42],[-0.0207,-50],[-0.025,-55.5],[-0.03,-60.5],[-0.0307,-19],[-0.0314,-20],[-0.0319,-18.5],[-0.0317,-17.5]
];
const env9 = [[0,0],[0.0014,9.3],[0.0036,19.4],[0.0064,27.5],[0.01,36.6],[0.015,44.7],[0.02,56.3],[0.025,63],[0.0339,71.7]];

const hysList = [hys1, hys2, hys3, hys4, hys5, hys6, hys7, hys8, hys9];
const envList = [env1, env2, env3, env4, env5, env6, env7, env8, env9];

// ---------- layout (positions / ranges) ----------
const layouts = [
  {left:17,  top:21,  width:330, height:329, xMin:-0.06,  xMax:0.12,  yMax:200, nameDx:61, nameDy:-11},
  {left:393, top:21,  width:330, height:329, xMin:-0.055, xMax:0.065, yMax:200, nameDx:65, nameDy:-1},
  {left:765, top:21,  width:328, height:329, xMin:-0.06,  xMax:0.06,  yMax:200, nameDx:65, nameDy:-1},
  {left:17,  top:481, width:330, height:329, xMin:-0.06,  xMax:0.06,  yMax:200, nameDx:62, nameDy:-8},
  {left:389, top:481, width:329, height:329, xMin:-0.06,  xMax:0.06,  yMax:200, nameDx:61, nameDy:-8},
  {left:761, top:481, width:329, height:329, xMin:-0.06,  xMax:0.06,  yMax:200, nameDx:61, nameDy:-1},
  {left:17,  top:941, width:330, height:329, xMin:-0.06,  xMax:0.06,  yMax:200, nameDx:64, nameDy:-8},
  {left:389, top:941, width:329, height:329, xMin:-0.06,  xMax:0.08,  yMax:100, nameDx:54, nameDy:-8},
  {left:761, top:941, width:329, height:329, xMin:-0.06,  xMax:0.08,  yMax:100, nameDx:61, nameDy:-1}
];

const FONT = "'Liberation Sans', Arial, 'Noto Sans CJK JP', sans-serif";
const grids = [], xAxes = [], yAxes = [], series = [], graphics = [];

layouts.forEach((L, i) => {
  grids.push({left: L.left, top: L.top, width: L.width, height: L.height, containLabel: false, outerBoundsMode: 'none'});
  const xt = [];
  for (let k = Math.ceil(L.xMin * 100 - 1e-9); k <= Math.floor(L.xMax * 100 + 1e-9); k++) xt.push(k / 100);
  const yt = [];
  for (let v = -L.yMax; v <= L.yMax; v += 25) yt.push(v);
  const axisX = L.left + L.width * (-L.xMin) / (L.xMax - L.xMin);
  const axisY = L.top + L.height / 2;
  xAxes.push({
    type: 'value', gridIndex: i, min: L.xMin, max: L.xMax, position: 'bottom', offset: -(L.top + L.height - axisY),
    axisLine: {onZero: false, lineStyle: {color: '#000', width: 1.2}},
    axisTick: {inside: true, length: 7, customValues: xt, lineStyle: {color: '#000', width: 1.2}},
    axisLabel: {customValues: i === 0 ? xTickLabelsWide : xTickLabels, formatter: v => String(v),
      color: '#000', fontSize: 22, fontFamily: FONT, margin: 6, hideOverlap: false},
    splitLine: {show: false}
  });
  yAxes.push({
    type: 'value', gridIndex: i, min: -L.yMax, max: L.yMax, position: 'left', offset: -(axisX - L.left),
    axisLine: {onZero: false, lineStyle: {color: '#000', width: 1.2}},
    axisTick: {inside: true, length: 7, customValues: yt, lineStyle: {color: '#000', width: 1.2}},
    axisLabel: {customValues: L.yMax === 200 ? yTickLabels200 : yTickLabels100, formatter: v => String(v),
      color: '#000', fontSize: 22, fontFamily: FONT, margin: 4, hideOverlap: false},
    splitLine: {show: false}
  });
  series.push({
    type: 'line', xAxisIndex: i, yAxisIndex: i, data: hysList[i], symbol: 'none', silent: true,
    lineStyle: {color: '#000', width: 1.1}, z: 3, clip: false
  });
  series.push({
    type: 'line', xAxisIndex: i, yAxisIndex: i, data: envList[i], symbol: 'none', silent: true,
    lineStyle: {color: '#ff0000', width: 1.6}, z: 4, clip: false
  });
  graphics.push({
    type: 'text', x: L.left + L.width - 1, y: axisY + 40, silent: true,
    style: {text: xAxisName, fontSize: 22, fontFamily: FONT, fill: '#000', align: 'right', verticalAlign: 'middle'}
  });
  graphics.push({
    type: 'text', x: axisX - L.nameDx, y: L.top + L.nameDy, rotation: Math.PI / 2, silent: true,
    style: {text: yAxisName, fontSize: 22, fontFamily: FONT, fill: '#000', align: 'right', verticalAlign: 'middle'}
  });
  graphics.push({
    type: 'text', x: L.left + L.width - 2, y: L.top + 305, silent: true,
    style: {text: panelNames[i], fontSize: 39, fontStyle: 'italic', fontFamily: FONT, fill: '#000', align: 'right', verticalAlign: 'middle'}
  });
});

const chart = echarts.init(document.getElementById('c'), null, {renderer: 'canvas'});
chart.setOption({
  animation: false,
  backgroundColor: '#fff',
  grid: grids, xAxis: xAxes, yAxis: yAxes, series: series,
  graphic: graphics
});
</script>
</body></html>
